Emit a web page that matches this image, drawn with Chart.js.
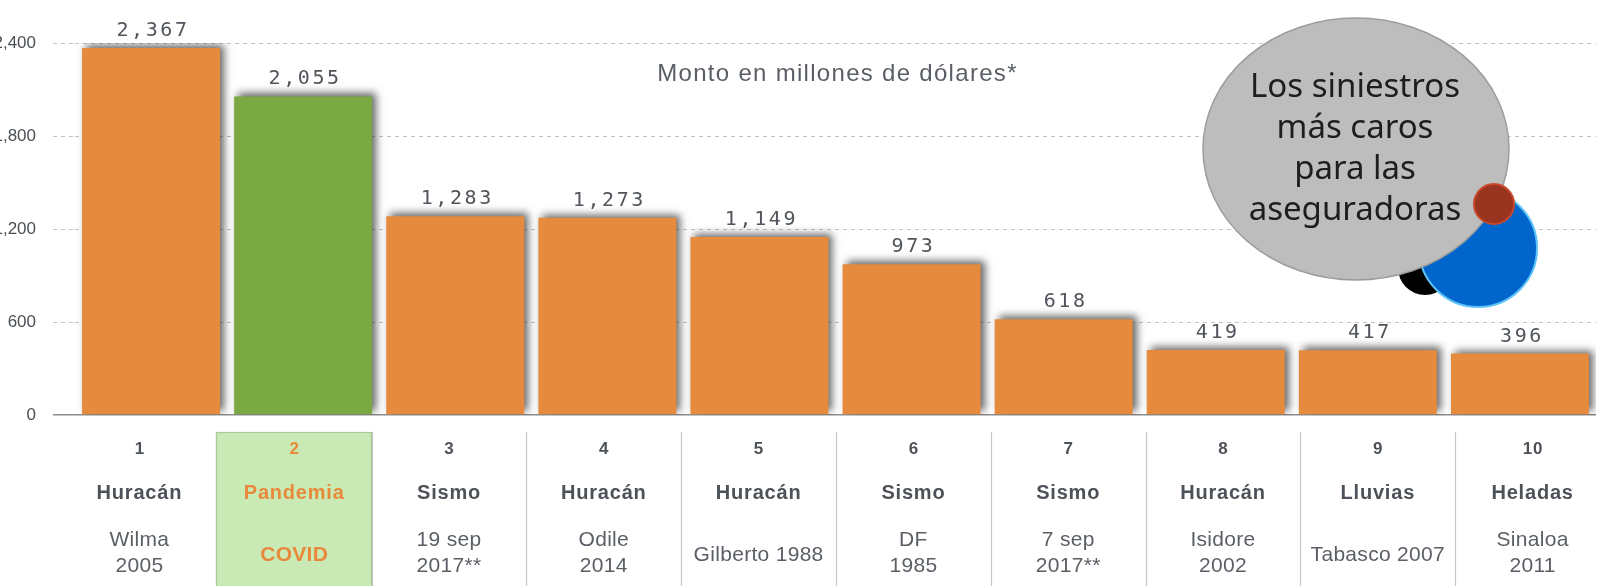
<!DOCTYPE html>
<html lang="es">
<head>
<meta charset="utf-8">
<title>Siniestros más caros</title>
<script src="https://cdn.jsdelivr.net/npm/chart.js@4.4.1/dist/chart.umd.min.js"></script>
<style>
  html, body { margin: 0; padding: 0; background: #ffffff; }
  #caja { width: 1598px; height: 586px; position: relative; }
</style>
</head>
<body>
<div id="caja"><canvas id="grafica"></canvas></div>
<script>
// --- datos ---
const rangos = ['1', '2', '3', '4', '5', '6', '7', '8', '9', '10'];
const tipos = ['Huracán', 'Pandemia', 'Sismo', 'Huracán', 'Huracán', 'Sismo', 'Sismo', 'Huracán', 'Lluvias', 'Heladas'];
const nombres = [
    ['Wilma', '2005'],
    ['COVID'],
    ['19 sep', '2017**'],
    ['Odile', '2014'],
    ['Gilberto 1988'],
    ['DF', '1985'],
    ['7 sep', '2017**'],
    ['Isidore', '2002'],
    ['Tabasco 2007'],
    ['Sinaloa', '2011'],
];
const montos = [2367, 2055, 1283, 1273, 1149, 973, 618, 419, 417, 396];
const ticksY = [0, 600, 1200, 1800, 2400];
const titulo = 'Monto en millones de dólares*';
const burbuja = ['Los siniestros', 'más caros', 'para las', 'aseguradoras'];

// --- estilos ---
const naranja = '#e68a3e';
const verde = '#7aa843';
const verdeClaro = '#c9eab5';
const grisTexto = '#50555b';
const grisRejilla = '#c4c4c4';

const esDestacado = i => tipos[i] === 'Pandemia';

// sombra de las barras
const sombraBarras = {
    id: 'sombraBarras',
    beforeDatasetsDraw(chart) {
        const ctx = chart.ctx;
        ctx.save();
        ctx.shadowColor = 'rgba(0,0,0,0.6)';
        ctx.shadowBlur = 8;
        ctx.shadowOffsetX = 4;
        ctx.shadowOffsetY = -3;
    },
    afterDatasetsDraw(chart) {
        chart.ctx.restore();
    }
};

// etiquetas de valor, título, tabla inferior y burbuja
const extras = {
    id: 'extras',
    afterDraw(chart) {
        const ctx = chart.ctx;
        const area = chart.chartArea;
        const meta = chart.getDatasetMeta(0);

        // valores sobre las barras
        ctx.save();
        ctx.font = '20px "DejaVu Sans Mono", monospace';
        ctx.letterSpacing = '2.6px';
        ctx.fillStyle = grisTexto;
        ctx.textAlign = 'center';
        ctx.textBaseline = 'alphabetic';
        meta.data.forEach((bar, i) => {
            ctx.fillText(montos[i].toLocaleString('en-US'), bar.x + 2, bar.y - 12);
        });
        ctx.restore();

        // título
        ctx.save();
        ctx.font = '24px "Liberation Sans", Arial, sans-serif';
        ctx.letterSpacing = '1.3px';
        ctx.fillStyle = '#5a5f65';
        ctx.textAlign = 'center';
        ctx.textBaseline = 'middle';
        ctx.fillText(titulo, (area.left + area.right) / 2 + 2, 74);
        ctx.restore();

        // tabla de categorías
        const izq = 62, ancho = 154.8, arriba = 432, abajo = chart.height;
        ctx.save();
        ctx.strokeStyle = '#c6c6c6';
        ctx.lineWidth = 1.2;
        for (let i = 1; i < rangos.length; i++) {
            const x = Math.round(izq + i * ancho) + 0.5;
            ctx.beginPath();
            ctx.moveTo(x, arriba);
            ctx.lineTo(x, abajo);
            ctx.stroke();
        }
        rangos.forEach((r, i) => {
            const x0 = izq + i * ancho;
            const cx = x0 + ancho / 2;
            const dest = esDestacado(i);
            if (dest) {
                ctx.fillStyle = verdeClaro;
                ctx.fillRect(x0 - 1, arriba, ancho + 1, abajo - arriba);
                ctx.strokeStyle = '#a9c99b';
                ctx.strokeRect(Math.round(x0 - 1) + 0.5, arriba + 0.5, Math.round(ancho), abajo - arriba + 2);
            }
            const color = dest ? '#e8893c' : '#4d5258';
            ctx.textAlign = 'center';
            ctx.textBaseline = 'middle';
            ctx.fillStyle = color;
            ctx.letterSpacing = '1px';
            ctx.font = 'bold 17px "Liberation Sans", Arial, sans-serif';
            ctx.fillText(r, cx + 0.5, 449);
            ctx.letterSpacing = '0.8px';
            ctx.font = 'bold 20px "Liberation Sans", Arial, sans-serif';
            ctx.fillText(tipos[i], cx, 493);
            ctx.fillStyle = dest ? '#e8893c' : '#5a5f66';
            ctx.font = (dest ? 'bold ' : '') + '21px "Liberation Sans", Arial, sans-serif';
            ctx.letterSpacing = '0.3px';
            const lineas = nombres[i];
            if (lineas.length === 1) {
                ctx.fillText(lineas[0], cx, 555);
            } else {
                ctx.fillText(lineas[0], cx, 540);
                ctx.fillText(lineas[1], cx, 566);
            }
        });
        ctx.restore();

        // burbuja decorativa
        ctx.save();
        ctx.beginPath();
        ctx.arc(1425, 268, 27, 0, Math.PI * 2);
        ctx.fillStyle = '#000000';
        ctx.fill();

        ctx.beginPath();
        ctx.arc(1478, 248, 59, 0, Math.PI * 2);
        ctx.fillStyle = '#0066cc';
        ctx.fill();
        ctx.lineWidth = 2;
        ctx.strokeStyle = '#5cc2f7';
        ctx.stroke();

        ctx.beginPath();
        ctx.ellipse(1356, 149, 153, 131, 0, 0, Math.PI * 2);
        ctx.fillStyle = '#bdbdbd';
        ctx.fill();
        ctx.lineWidth = 1.5;
        ctx.strokeStyle = '#9c9c9c';
        ctx.stroke();

        ctx.fillStyle = '#1e1e1e';
        ctx.font = '33px "Noto Sans", sans-serif';
        ctx.textAlign = 'center';
        ctx.textBaseline = 'alphabetic';
        burbuja.forEach((t, i) => ctx.fillText(t, 1355, 97 + i * 41));

        ctx.beginPath();
        ctx.arc(1494, 204, 20, 0, Math.PI * 2);
        ctx.fillStyle = '#983420';
        ctx.fill();
        ctx.lineWidth = 2;
        ctx.strokeStyle = '#c9472b';
        ctx.stroke();
        ctx.restore();
    }
};

document.addEventListener('DOMContentLoaded', () => {
    new Chart(document.getElementById('grafica'), {
        type: 'bar',
        data: {
            labels: rangos,
            datasets: [{
                data: montos,
                backgroundColor: ctx => esDestacado(ctx.dataIndex) ? verde : naranja,
                borderWidth: 0,
                categoryPercentage: 1,
                barPercentage: 0.907
            }]
        },
        options: {
            responsive: true,
            maintainAspectRatio: false,
            animation: false,
            layout: { padding: { top: 43, bottom: 171, left: 0, right: 2 } },
            plugins: {
                legend: { display: false },
                tooltip: { enabled: false }
            },
            scales: {
                x: { display: false },
                y: {
                    min: 0,
                    max: 2400,
                    afterBuildTicks: scale => { scale.ticks = ticksY.map(v => ({ value: v })); },
                    afterFit: scale => { scale.width = 75; },
                    border: {
                        display: false,
                        dash: ctx => (ctx.tick && ctx.tick.value === 0) ? [] : [4, 4]
                    },
                    grid: {
                        color: ctx => (ctx.tick && ctx.tick.value === 0) ? '#8c8c8c' : grisRejilla,
                        lineWidth: ctx => (ctx.tick && ctx.tick.value === 0) ? 1.5 : 1,
                        tickColor: ctx => (ctx.tick && ctx.tick.value === 0) ? '#8c8c8c' : grisRejilla,
                        tickBorderDash: ctx => (ctx.tick && ctx.tick.value === 0) ? [] : [4, 4],
                        tickLength: 22,
                        drawTicks: true
                    },
                    ticks: {
                        padding: 17,
                        color: '#4a4f55',
                        font: { family: '"Liberation Sans", Arial, sans-serif', size: 17 },
                        callback: v => v.toLocaleString('en-US')
                    }
                }
            }
        },
        plugins: [sombraBarras, extras]
    });
});
</script>
</body>
</html>
